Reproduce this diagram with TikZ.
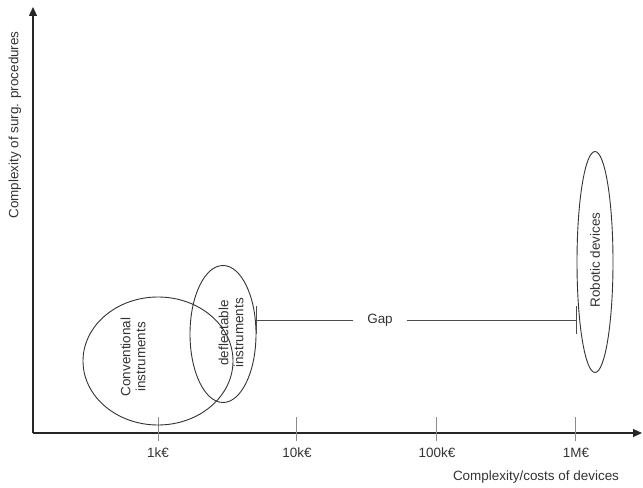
\documentclass[tikz,border=0pt]{standalone}
\usepackage{fontspec}
\setmainfont{Liberation Sans}
\usetikzlibrary{shapes.geometric,arrows.meta}
\begin{document}
\begin{tikzpicture}[x=1bp,y=-1bp,
  lbl/.style={font=\fontsize{13.5}{15}\selectfont, text=black!80, inner sep=0pt},
  axisline/.style={draw=black!85, line width=1.3bp, -{Triangle[length=9bp,width=8bp]}},
  tickline/.style={draw=black!45, line width=1bp},
  blob/.style={draw=black!80, line width=0.9bp, ellipse, inner sep=0pt},
  gapline/.style={draw=black!70, line width=0.8bp, {Bar[width=28bp]}-{Bar[width=28bp]}}]
\useasboundingbox (0,0) rectangle (643,488);
% axes
\coordinate (O) at (33,433);
\coordinate (Ytop) at (33,7);
\coordinate (Xend) at (642,433);
\draw[axisline] (O) -- (Ytop);
\draw[axisline] (O) -- (Xend);
% ticks
\foreach \n/\x in {a/158,b/296,c/436,d/575}{
  \coordinate (t\n top) at (\x,417);
  \coordinate (t\n bot) at (\x,441);
  \draw[tickline] (t\n top) -- (t\n bot);
}
\node[lbl] (l1) at (158,453) {1k€};
\node[lbl] (l2) at (297,453) {10k€};
\node[lbl] (l3) at (437,453) {100k€};
\node[lbl] (l4) at (576,453) {1M€};
\node[lbl] (xlab) at (536,477) {Complexity/costs of devices};
\node[lbl, rotate=90] (ylab) at (15,125) {Complexity of surg. procedures};
% ellipses
\node[blob, minimum width=150bp, minimum height=128bp] (conv) at (158,361) {};
\node[blob, minimum width=66bp, minimum height=137bp] (defl) at (223,334) {};
\node[blob, minimum width=36bp, minimum height=221bp] (robo) at (595,262) {};
\node[lbl, rotate=90, align=center] (convt) at (133,357) {Conventional\\instruments};
\node[lbl, rotate=90, align=center] (deflt) at (231,333) {deflectable\\instruments};
\node[lbl, rotate=90] (robot) at (595,260) {Robotic devices};
% gap
\coordinate (gapL) at (256,320);
\coordinate (gapR) at (577,320);
\draw[gapline] (gapL) -- (gapR);
\node[lbl, fill=white, inner xsep=14bp, inner ysep=3bp] (gap) at (380,320) {Gap};
\end{tikzpicture}
\end{document}
